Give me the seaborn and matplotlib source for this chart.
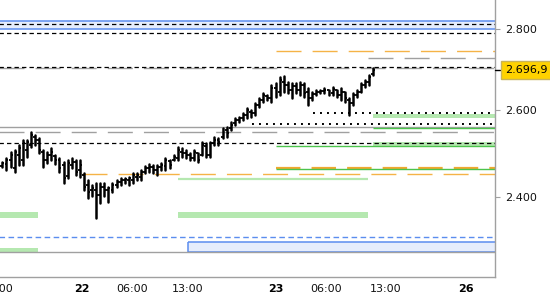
import numpy as np
import pandas as pd
import matplotlib
matplotlib.use("Agg")
import matplotlib.pyplot as plt
import matplotlib.transforms as mtransforms
from matplotlib.ticker import FixedLocator, NullLocator, FuncFormatter
import seaborn as sns

# ---------------- data ----------------
# time axis: hours relative to day 22 00:00 (compressed session scale), 30-min bars
bar_start = -9.75
bar_step = 0.5
bar_open = [2469.3, 2473.8, 2482.9, 2464.7, 2494.3, 2482.9, 2505.7, 2517.3, 2535.9, 2528.9,
            2501.1, 2482.9, 2494.3, 2492.0, 2482.9, 2471.6, 2446.7, 2471.6, 2478.4, 2460.2,
            2449.0, 2426.7, 2415.5, 2415.5, 2404.5, 2422.2, 2415.5, 2415.5, 2426.7, 2433.3,
            2437.8, 2437.8, 2437.8, 2444.5, 2444.5, 2455.7, 2464.7, 2467.0, 2460.2, 2467.0,
            2469.3, 2480.6, 2482.9, 2487.5, 2501.1, 2498.9, 2494.3, 2487.5, 2498.9, 2494.3,
            2515.0, 2494.3, 2522.0, 2528.9, 2535.9, 2552.2, 2556.9, 2568.7, 2575.7, 2580.5,
            2587.6, 2594.7, 2592.4, 2611.5, 2623.5, 2633.1, 2628.3, 2652.5, 2642.8, 2667.1,
            2659.8, 2647.6, 2657.4, 2647.6, 2659.8, 2642.8, 2628.3, 2637.9, 2642.8, 2645.2,
            2647.6, 2640.4, 2647.6, 2635.5, 2642.8, 2623.5, 2616.3, 2635.5, 2642.8, 2659.8,
            2667.1, 2686.9]
bar_high = [2478.4, 2487.5, 2501.1, 2505.7, 2517.3, 2528.9, 2528.9, 2547.5, 2540.6, 2533.6,
            2505.7, 2501.1, 2510.4, 2494.3, 2487.5, 2478.4, 2482.9, 2487.5, 2482.9, 2482.9,
            2453.5, 2437.8, 2426.7, 2431.1, 2431.1, 2431.1, 2422.2, 2431.1, 2437.8, 2442.3,
            2442.3, 2444.5, 2453.5, 2453.5, 2460.2, 2469.3, 2473.8, 2471.6, 2471.6, 2476.1,
            2487.5, 2482.9, 2494.3, 2512.7, 2510.4, 2505.7, 2498.9, 2505.7, 2498.9, 2524.3,
            2522.0, 2524.3, 2535.9, 2533.6, 2556.9, 2559.2, 2571.0, 2580.5, 2582.8, 2592.4,
            2604.3, 2599.5, 2616.3, 2628.3, 2640.4, 2635.5, 2659.8, 2664.7, 2679.5, 2682.0,
            2667.1, 2664.7, 2664.7, 2667.1, 2664.7, 2652.5, 2642.8, 2647.6, 2647.6, 2652.5,
            2647.6, 2654.9, 2647.6, 2652.5, 2642.8, 2628.3, 2640.4, 2647.6, 2664.7, 2672.0,
            2684.5, 2701.9]
bar_low = [2467.0, 2460.2, 2467.0, 2455.7, 2471.6, 2471.6, 2489.7, 2512.7, 2517.3, 2498.9,
           2467.0, 2476.1, 2482.9, 2473.8, 2455.7, 2431.1, 2442.3, 2464.7, 2449.0, 2444.5,
           2415.5, 2397.8, 2402.2, 2354.3, 2386.9, 2402.2, 2389.0, 2411.1, 2422.2, 2426.7,
           2431.1, 2426.7, 2431.1, 2437.8, 2437.8, 2453.5, 2455.7, 2453.5, 2449.0, 2460.2,
           2460.2, 2464.7, 2482.9, 2482.9, 2489.7, 2487.5, 2482.9, 2482.9, 2478.4, 2494.3,
           2489.7, 2489.7, 2517.3, 2517.3, 2533.6, 2535.9, 2552.2, 2564.0, 2571.0, 2575.7,
           2580.5, 2582.8, 2587.6, 2606.7, 2618.7, 2623.5, 2618.7, 2630.7, 2635.5, 2642.8,
           2640.4, 2628.3, 2640.4, 2635.5, 2630.7, 2611.5, 2623.5, 2635.5, 2640.4, 2640.4,
           2635.5, 2635.5, 2630.7, 2623.5, 2618.7, 2587.6, 2611.5, 2630.7, 2642.8, 2654.9,
           2659.8, 2684.5]
bar_close = [2476.1, 2482.9, 2494.3, 2501.1, 2510.4, 2522.0, 2524.3, 2540.6, 2528.9, 2505.7,
             2482.9, 2494.3, 2501.1, 2482.9, 2464.7, 2442.3, 2476.1, 2478.4, 2455.7, 2471.6,
             2422.2, 2411.1, 2420.0, 2404.5, 2422.2, 2415.5, 2420.0, 2426.7, 2433.3, 2437.8,
             2440.0, 2442.3, 2449.0, 2449.0, 2455.7, 2464.7, 2467.0, 2460.2, 2467.0, 2471.6,
             2482.9, 2471.6, 2489.7, 2505.7, 2498.9, 2494.3, 2487.5, 2501.1, 2482.9, 2517.3,
             2494.3, 2522.0, 2528.9, 2524.3, 2552.2, 2545.2, 2564.0, 2575.7, 2580.5, 2587.6,
             2599.5, 2592.4, 2611.5, 2623.5, 2635.5, 2628.3, 2652.5, 2642.8, 2672.0, 2659.8,
             2647.6, 2657.4, 2647.6, 2659.8, 2640.4, 2628.3, 2637.9, 2642.8, 2645.2, 2647.6,
             2640.4, 2650.0, 2635.5, 2642.8, 2628.3, 2616.3, 2635.5, 2642.8, 2659.8, 2667.1,
             2679.5, 2696.9]
last_price = 2696.9

# horizontal levels
black_dash_levels = [2811.6, 2789.7, 2705.3, 2521.3]
gray_dash_levels = [2701.6, 2546.9]
gray_dash_short_level = [2726.5]
gray_dash_short_start = [35.1]
gray_solid_levels = [2558.5, 2281.5]
dotted_levels = [2591.6, 2566.2]
dotted_starts = [28.3, 20.9]
orange_dash_levels = [2744.1, 2452.4]
orange_dash_starts = [23.8, 0.0]
orange_thick_levels = [2464.1]
orange_thick_starts = [23.8]
green_line_levels = [2556.6, 2515.7, 2461.8]
green_line_starts = [35.7, 23.8, 23.8]
light_green_line_levels = [2440.0]
light_green_line_starts = [11.8]
light_green_line_ends = [35.1]
green_zone_top = [2589.9, 2524.9, 2367.3, 2367.3, 2290.2]
green_zone_bottom = [2580.5, 2513.4, 2354.3, 2354.3, 2280.1]
green_zone_start = [35.7, 35.7, 11.8, -12.6, -12.6]
green_zone_end = [50.7, 50.7, 35.1, -5.4, -5.4]
blue_zone_top = [2820.6, 2302.4]
blue_zone_bottom = [2800.0, 2281.5]
blue_zone_start = [-12.6, 13.0]
blue_dash_levels = [2313.5]

x_tick_pos = [-10.3, -3.2, 0.0, 2.95, 6.1, 13.0, 20.6, 23.8, 26.9, 30.0, 37.3, 44.6, 47.1, 50.3]
x_tick_labels = ["18:00", "", "22", "", "06:00", "13:00", "", "23", "", "06:00", "13:00", "", "26", ""]
day_labels = ["22", "23", "26"]
y_ticks = [2400, 2600, 2800]
x_range = [-12.5, 50.67]
y_range = [2230.3, 2875.5]

# ---------------- style ----------------
sns.set_theme(style="white")
plt.rcParams["font.family"] = ["DejaVu Sans"]

fig = plt.figure(figsize=(5.5, 3.0), dpi=100)
ax = fig.add_axes([-20 / 550, 23 / 300, 515 / 550, 277 / 300])
ax.set_yscale("log")
ax.set_xlim(*x_range)
ax.set_ylim(*y_range)
x0, x1 = x_range

GRAY = "#A0A0A0"
BLUE = "#5B8DEF"
BLUE_FILL = "#E6EDFC"
LGREEN = "#B5E8B0"
GREEN = "#4CC44C"
ORANGE = "#F5B347"
ORANGE2 = "#F0A830"

# zones
for top, bot, s in zip(blue_zone_top, blue_zone_bottom, blue_zone_start):
    ax.fill_between([s, x1], bot, top, color=BLUE_FILL, lw=0, zorder=1)
    ax.hlines([top, bot], s, x1, colors=BLUE, lw=1.1, zorder=2)
ax.vlines(blue_zone_start[1], blue_zone_bottom[1], blue_zone_top[1], colors=BLUE, lw=1.1, zorder=2)
for top, bot, s, e in zip(green_zone_top, green_zone_bottom, green_zone_start, green_zone_end):
    ax.fill_between([s, e], bot, top, color=LGREEN, lw=0, zorder=1)

# lines
ax.hlines(black_dash_levels, x0, x1, colors="black", lw=0.9, linestyles=(0, (3.5, 2.5)), zorder=3)
ax.hlines(gray_dash_levels, x0, x1, colors=GRAY, lw=1.0, linestyles=(0, (18, 8)), zorder=2)
ax.hlines(gray_dash_short_level, gray_dash_short_start, x1, colors=GRAY, lw=1.0,
          linestyles=(0, (18, 8)), zorder=2)
ax.hlines(gray_solid_levels, x0, x1, colors=GRAY, lw=1.0, zorder=2)
ax.hlines(dotted_levels, dotted_starts, x1, colors="black", lw=1.4,
          linestyles=(0, (1.0, 2.6)), zorder=3)
ax.hlines(orange_dash_levels, orange_dash_starts, x1, colors=ORANGE, lw=1.0,
          linestyles=(0, (18, 8)), zorder=2)
ax.hlines(orange_thick_levels, orange_thick_starts, x1, colors=ORANGE2, lw=1.6,
          linestyles=(0, (11, 5)), zorder=2)
ax.hlines(green_line_levels, green_line_starts, x1, colors=GREEN, lw=1.0, zorder=2)
ax.hlines(light_green_line_levels, light_green_line_starts, light_green_line_ends,
          colors=LGREEN, lw=1.6, zorder=2)
ax.hlines(blue_dash_levels, x0, x1, colors=BLUE, lw=1.0, linestyles=(0, (4, 2.5)), zorder=2)

# price bars (high-low via seaborn, open/close ticks)
n = len(bar_close)
bar_t = bar_start + bar_step * np.arange(n)
df = pd.DataFrame({
    "t": np.concatenate([bar_t, bar_t]),
    "price": np.concatenate([bar_high, bar_low]),
    "bar": np.concatenate([np.arange(n), np.arange(n)]),
})
sns.lineplot(data=df, x="t", y="price", units="bar", estimator=None, color="black",
             linewidth=1.8, ax=ax, legend=False, sort=False, zorder=5)
ax.hlines(bar_open, bar_t - 0.24, bar_t, colors="black", lw=1.3, zorder=5)
ax.hlines(bar_close, bar_t, bar_t + 0.24, colors="black", lw=1.3, zorder=5)

# axes styling
ax.set_xlabel("")
ax.set_ylabel("")
for side in ["left", "top"]:
    ax.spines[side].set_visible(False)
for side in ["right", "bottom"]:
    ax.spines[side].set_color(GRAY)
    ax.spines[side].set_linewidth(1.0)

ax.yaxis.tick_right()
ax.yaxis.set_major_locator(FixedLocator(y_ticks))
ax.yaxis.set_minor_locator(NullLocator())
ax.yaxis.set_major_formatter(FuncFormatter(lambda v, _: f"{v:,.0f}".replace(",", ".")))
ax.tick_params(axis="y", which="major", length=3.6, width=0.8, color=GRAY,
               pad=3.5, labelsize=8, labelcolor="#111111")

ax.xaxis.set_major_locator(FixedLocator(x_tick_pos))
ax.set_xticklabels(x_tick_labels)
ax.tick_params(axis="x", which="major", length=2.9, width=0.8, color=GRAY,
               pad=2.5, labelsize=8, labelcolor="#111111")
for lab in ax.get_xticklabels():
    if lab.get_text() in day_labels:
        lab.set_fontweight("bold")
        lab.set_color("black")

# last-price marker and label
trans = mtransforms.blended_transform_factory(ax.transAxes, ax.transData)
ax.plot([1.0, 1.009], [last_price, last_price], color="black", lw=1.0,
        transform=trans, clip_on=False, zorder=6)
price_txt = f"{last_price:,.1f}".replace(",", "X").replace(".", ",").replace("X", ".")
ax.text(1.0 + 10 / 515, last_price, price_txt, transform=trans, ha="left", va="center",
        fontsize=8, color="black", clip_on=False, zorder=7,
        bbox=dict(boxstyle="square,pad=0.38", facecolor="#FFD200", edgecolor="#C9B45A", lw=1.0))

fig.savefig("out.png", dpi=100)
